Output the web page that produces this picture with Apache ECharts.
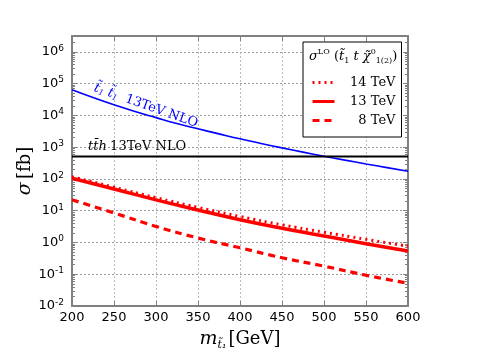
<!DOCTYPE html>
<html>
<head>
<meta charset="utf-8">
<script src="https://cdn.jsdelivr.net/npm/echarts@6/dist/echarts.min.js"></script>
<style>
  html, body { margin: 0; padding: 0; background: #fff; }
  #chart { width: 480px; height: 360px; }
</style>
</head>
<body>
<div id="chart"></div>
<script>
// stop mass points (GeV) for the LO associated production curves
const masses = [200, 250, 300, 350, 400, 450, 500, 550, 600]
const xsec14 = [117, 55, 25.7, 12.7, 6.6, 3.6, 2.1, 1.26, 0.76]   // fb, 14 TeV
const xsec13 = [105, 48, 22, 10.5, 5.2, 2.8, 1.6, 0.91, 0.54]     // fb, 13 TeV
const xsec8 = [22, 8.5, 3.2, 1.38, 0.68, 0.33, 0.18, 0.093, 0.052] // fb, 8 TeV
// stop pair 13 TeV NLO
const stopMasses = [200, 225, 250, 275, 300, 325, 350, 375, 400, 425, 450, 475, 500, 525, 550, 575, 600]
const stopPair13 = [64500, 36600, 21600, 13200, 8520, 5570, 3790, 2620, 1830, 1310, 948, 697, 518, 390, 296, 227, 175]
// ttH 13 TeV NLO (flat)
const tthMasses = [200, 600]
const tth13 = [507, 507]
// axis ticks
const xTicks = [200, 250, 300, 350, 400, 450, 500, 550, 600]
const yExponents = [-2, -1, 0, 1, 2, 3, 4, 5, 6]
const yMax = 3.16e6

const zip = (xs, ys) => xs.map((x, i) => [x, ys[i]])

// log minor tick positions (2..9 x 10^e) inside the axis range
const minorTicks = []
yExponents.forEach(e => {
  for (let k = 2; k <= 9; k++) {
    const v = k * Math.pow(10, e)
    if (v < yMax) minorTicks.push(v)
  }
})

const serif = 'DejaVu Serif'
const sans = 'DejaVu Sans'
const axisGrey = '#808080'

const chart = echarts.init(document.getElementById('chart'))

const xBase = {
  type: 'value',
  min: xTicks[0],
  max: xTicks[xTicks.length - 1],
  interval: xTicks[1] - xTicks[0],
  axisLine: { lineStyle: { color: axisGrey, width: 2 } },
  axisTick: { inside: true, length: 5, lineStyle: { color: axisGrey } }
}
const yBase = {
  type: 'log',
  logBase: 10,
  min: Math.pow(10, yExponents[0]),
  max: yMax,
  axisLine: { lineStyle: { color: axisGrey, width: 2 } },
  axisTick: { inside: true, length: 5, lineStyle: { color: axisGrey } }
}
// extra axes that only draw the log minor ticks
const yMinor = pos => Object.assign({}, yBase, {
  position: pos,
  axisLine: { show: false },
  axisLabel: { show: false },
  splitLine: { show: false },
  axisTick: { show: true, inside: true, length: 3, customValues: minorTicks, lineStyle: { color: axisGrey } }
})

const option = {
  animation: false,
  grid: { left: 72, right: 72, top: 36, bottom: 54 },
  xAxis: [
    Object.assign({}, xBase, {
      position: 'bottom',
      name: '{i|m}{s|t̃₁}{n|[GeV]}',
      nameLocation: 'middle',
      nameGap: 22,
      nameTextStyle: {
        rich: {
          i: { fontFamily: serif, fontStyle: 'italic', fontSize: 19, color: '#000' },
          s: { fontFamily: serif, fontStyle: 'italic', fontSize: 11, color: '#000', padding: [12, 2, 0, 0] },
          n: { fontFamily: serif, fontSize: 18, color: '#000' }
        }
      },
      axisLabel: { margin: 5, fontFamily: sans, fontSize: 13, color: '#000' },
      splitLine: { show: true, lineStyle: { color: '#bbb', type: [2, 2], width: 1 } }
    }),
    Object.assign({}, xBase, {
      position: 'top',
      axisLabel: { show: false },
      splitLine: { show: false }
    })
  ],
  yAxis: [
    Object.assign({}, yBase, {
      position: 'left',
      name: '{i|σ} {n|[fb]}',
      nameLocation: 'middle',
      nameGap: 37,
      nameMoveOverlap: false,
      nameTextStyle: {
        rich: {
          i: { fontFamily: serif, fontStyle: 'italic', fontSize: 19, color: '#000' },
          n: { fontFamily: serif, fontSize: 18, color: '#000' }
        }
      },
      axisLabel: {
        margin: 8,
        showMaxLabel: false,
        formatter: v => {
          const e = Math.round(Math.log10(v))
          if (Math.abs(Math.log10(v) - e) > 1e-6) return ''
          return '{b|10}{e|' + e + '}'
        },
        rich: {
          b: { fontFamily: sans, fontSize: 13, color: '#000', lineHeight: 16 },
          e: { fontFamily: sans, fontSize: 9, color: '#000', verticalAlign: 'top', lineHeight: 16, padding: [0, 0, 6, 0] }
        }
      },
      splitLine: { show: true, lineStyle: { color: '#999', type: [2, 2], width: 1 } }
    }),
    Object.assign({}, yBase, {
      position: 'right',
      axisLabel: { show: false },
      splitLine: { show: false }
    }),
    yMinor('left'),
    yMinor('right')
  ],
  legend: {
    orient: 'vertical',
    left: 303,
    top: 42,
    padding: [34, 6, 10, 8],
    itemGap: 6,
    itemWidth: 22,
    itemHeight: 10,
    borderColor: '#000',
    borderWidth: 1,
    borderRadius: 0,
    backgroundColor: '#fff',
    lineStyle: { width: 3 },
    itemStyle: { color: 'rgba(0,0,0,0)', borderWidth: 0, opacity: 0 },
    data: ['14 TeV', '13 TeV', '8 TeV'],
    formatter: name => '{r|' + name + '}',
    textStyle: {
      fontFamily: serif,
      fontSize: 13,
      color: '#000',
      rich: { r: { width: 56, align: 'right', fontFamily: serif, fontSize: 13, color: '#000', lineHeight: 14 } }
    }
  },
  series: [
    {
      name: 'stop pair',
      type: 'line',
      symbol: 'none',
      smooth: true,
      data: zip(stopMasses, stopPair13),
      lineStyle: { color: '#0000ff', width: 1.6 },
      itemStyle: { color: '#0000ff' }
    },
    {
      name: 'tth',
      type: 'line',
      symbol: 'none',
      data: zip(tthMasses, tth13),
      lineStyle: { color: '#000', width: 2 },
      itemStyle: { color: '#000' }
    },
    {
      name: '8 TeV',
      type: 'line',
      symbol: 'none',
      smooth: true,
      data: zip(masses, xsec8),
      lineStyle: { color: '#ff0000', width: 3.2, type: [7, 5] },
      itemStyle: { color: '#ff0000' }
    },
    {
      name: '13 TeV',
      type: 'line',
      symbol: 'none',
      smooth: true,
      data: zip(masses, xsec13),
      lineStyle: { color: '#ff0000', width: 3.5 },
      itemStyle: { color: '#ff0000' }
    },
    {
      name: '14 TeV',
      type: 'line',
      symbol: 'none',
      smooth: true,
      data: zip(masses, xsec14),
      lineStyle: { color: '#ff0000', width: 3, type: [2, 4] },
      itemStyle: { color: '#ff0000' }
    }
  ]
}

chart.setOption(option)

// annotations placed from data coordinates
const blueAt = chart.convertToPixel({ xAxisIndex: 0, yAxisIndex: 0 }, [224, 37500])
const tthAt = chart.convertToPixel({ xAxisIndex: 0, yAxisIndex: 0 }, [219, 507])

chart.setOption({
  graphic: [
    {
      type: 'text',
      z: 100,
      x: blueAt[0],
      y: blueAt[1] - 3,
      rotation: -0.34,
      style: {
        text: '{i|t̃}{s|1}{i| t̃}{s|1}{n|  13TeV NLO}',
        align: 'left',
        verticalAlign: 'bottom',
        rich: {
          i: { fontFamily: serif, fontStyle: 'italic', fontSize: 13, fill: '#0000ff' },
          s: { fontFamily: serif, fontStyle: 'italic', fontSize: 8, fill: '#0000ff', padding: [6, 0, 0, 0] },
          n: { fontFamily: serif, fontSize: 13, fill: '#0000ff' }
        }
      }
    },
    {
      type: 'text',
      z: 100,
      x: tthAt[0],
      y: tthAt[1] - 3,
      style: {
        text: '{i|tt̄h} {n|13TeV NLO}',
        align: 'left',
        verticalAlign: 'bottom',
        rich: {
          i: { fontFamily: serif, fontStyle: 'italic', fontSize: 13, fill: '#000' },
          n: { fontFamily: serif, fontSize: 13, fill: '#000' }
        }
      }
    },
    {
      type: 'text',
      z: 100,
      x: 309,
      y: 48,
      style: {
        text: '{i|σ}{u|LO}{n| (}{i|t̃}{d|1}{i| t χ̃}{u|0}{d|1(2)}{n|)}',
        rich: {
          i: { fontFamily: serif, fontStyle: 'italic', fontSize: 13, fill: '#000', lineHeight: 18 },
          n: { fontFamily: serif, fontSize: 13, fill: '#000', lineHeight: 18 },
          u: { fontFamily: serif, fontSize: 8, fill: '#000', verticalAlign: 'top', lineHeight: 18, padding: [0, 0, 8, 0] },
          d: { fontFamily: serif, fontSize: 8, fill: '#000', padding: [8, 0, 0, 0] }
        }
      }
    }
  ]
})
</script>
</body>
</html>
